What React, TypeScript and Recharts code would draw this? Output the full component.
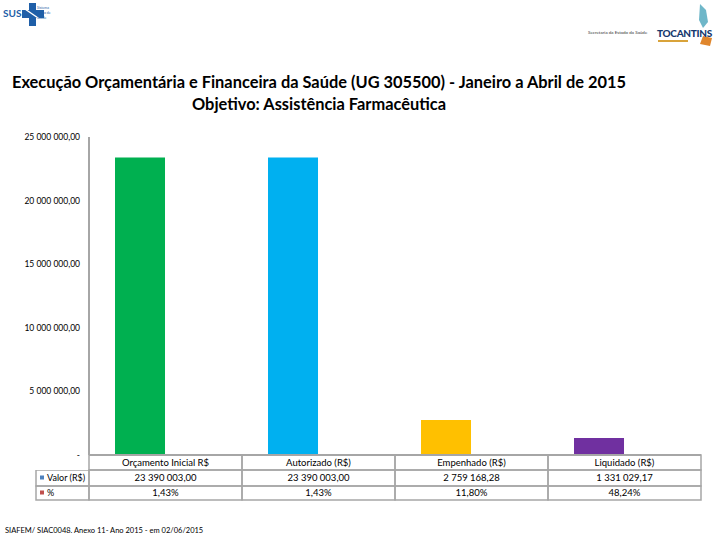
import React from 'react';
import { BarChart, Bar, XAxis, YAxis, Cell } from 'recharts';

const categories = ['Orçamento Inicial R$', 'Autorizado (R$)', 'Empenhado (R$)', 'Liquidado (R$)'];
const valores = [23390003.0, 23390003.0, 2759168.28, 1331029.17];
const percentuais = [1.43, 1.43, 11.8, 48.24];
const yTicks = [0, 5000000, 10000000, 15000000, 20000000, 25000000];
const seriesNames = ['Valor (R$)', '%'];

const BAR_COLORS = ['#00B050', '#00B0F0', '#FFC000', '#7030A0'];
const KEY_COLORS = ['#4F81BD', '#C0504D'];
const GRID = '#A6A6A6';
const FONT = 'Lato, "Liberation Sans", sans-serif';

const W = 720;
const H = 540;
const PLOT_LEFT = 89;
const PLOT_RIGHT = 701;
const PLOT_TOP = 137;
const PLOT_BOTTOM = 455;
const Y_AXIS_W = 80;
const COL_W = (PLOT_RIGHT - PLOT_LEFT) / categories.length;
const ROW_H = [15, 16, 14];

const data = categories.map((name, i) => ({
  name,
  valor: valores[i],
  pct: percentuais[i],
}));

const fmtMoney = (v: number) => {
  const [int, dec] = v.toFixed(2).split('.');
  return int.replace(/\B(?=(\d{3})+(?!\d))/g, ' ') + ',' + dec;
};
const fmtPct = (v: number) => v.toFixed(2).replace('.', ',') + '%';
const yFmt = (v: number) => (v === 0 ? '-' : fmtMoney(v));

const TableTick = (props: any) => {
  const { x, index } = props;
  const left = x - COL_W / 2;
  const cells = [categories[index], fmtMoney(valores[index]), fmtPct(percentuais[index])];
  let top = PLOT_BOTTOM;
  return (
    <g>
      {cells.map((c, r) => {
        const y0 = top;
        top += ROW_H[r];
        return (
          <g key={r}>
            <rect x={left} y={y0} width={COL_W} height={ROW_H[r]} fill="none" stroke={GRID} strokeWidth={1.5} />
            <text x={x} y={y0 + ROW_H[r] / 2 + 3} textAnchor="middle" fontSize={9.5} fontFamily={FONT} fill="#000">
              {c}
            </text>
          </g>
        );
      })}
    </g>
  );
};

const YTick = (props: any) => {
  const { y, payload } = props;
  return (
    <text x={PLOT_LEFT - 9} y={y + 3} textAnchor="end" fontSize={8.5} fontFamily={FONT} fill="#000">
      {yFmt(payload.value)}
    </text>
  );
};

export default function App() {
  const legendTop = PLOT_BOTTOM + ROW_H[0];
  return (
    <div style={{ position: 'absolute', left: 0, top: 0, width: W, height: H, background: '#fff', fontFamily: FONT, overflow: 'hidden' }}>
      {/* header logos */}
      <svg width={W} height={50} style={{ position: 'absolute', left: 0, top: 0 }}>
        <text x={3} y={17} fontSize={10} fontWeight={700} fill="#1F5FA8" fontFamily={FONT}>SUS</text>
        <rect x={29} y={3} width={7} height={23} fill="#1F5FA8" />
        <rect x={22} y={10} width={22} height={8} fill="#1F5FA8" />
        <line x1={22} y1={7} x2={44} y2={22} stroke="#fff" strokeWidth={1.5} />
        <text x={37} y={9} fontSize={3.5} fill="#1F5FA8" fontFamily={FONT}>Sistema</text>
        <text x={37} y={14} fontSize={3.5} fill="#1F5FA8" fontFamily={FONT}>Único de</text>
        <text x={37} y={19} fontSize={3.5} fill="#1F5FA8" fontFamily={FONT}>Saúde</text>
        <text x={588} y={34} fontSize={4.5} fill="#333" fontFamily={FONT}>Secretaria da Estado da Saúde</text>
        <path d="M700 4 L706 10 L708 22 L703 28 L699 20 Z" fill="#6FB7C9" />
        <path d="M703 36 L712 38 L710 46 L700 44 Z" fill="#E0862C" />
        <text x={657} y={37} fontSize={10} fontWeight={900} fill="#16386E" fontFamily={FONT} letterSpacing={-0.3}>TOCANTINS</text>
        <rect x={658} y={40} width={30} height={2} fill="#D9A33A" />
      </svg>

      {/* title */}
      <div style={{ position: 'absolute', left: 0, width: 638, top: 71, textAlign: 'center', fontWeight: 700, fontSize: 16.4, lineHeight: '22px', color: '#000' }}>
        Execução Orçamentária e Financeira da Saúde (UG 305500) - Janeiro a Abril de 2015
        <br />
        Objetivo: Assistência Farmacêutica
      </div>

      <div style={{ position: 'absolute', left: 0, top: 0 }}>
        <BarChart
          width={W}
          height={H}
          data={data}
          margin={{ top: PLOT_TOP, right: W - PLOT_RIGHT, bottom: 0, left: PLOT_LEFT - Y_AXIS_W }}
          barCategoryGap="17%"
          barGap={0}
        >
          <YAxis
            width={Y_AXIS_W}
            domain={[0, 25000000]}
            ticks={yTicks}
            tickLine={false}
            axisLine={{ stroke: GRID, strokeWidth: 2 }}
            tick={<YTick />}
            interval={0}
          />
          <XAxis
            dataKey="name"
            height={H - PLOT_BOTTOM}
            tickLine={false}
            axisLine={{ stroke: GRID, strokeWidth: 2 }}
            tick={<TableTick />}
            interval={0}
          />
          <Bar dataKey="valor" name={seriesNames[0]} isAnimationActive={false}>
            {data.map((d, i) => (
              <Cell key={i} fill={BAR_COLORS[i]} />
            ))}
          </Bar>
          <Bar dataKey="pct" name={seriesNames[1]} fill={KEY_COLORS[1]} isAnimationActive={false} />
        </BarChart>
      </div>

      {/* table row labels (legend keys) */}
      <svg width={PLOT_LEFT + 2} height={50} style={{ position: 'absolute', left: 0, top: legendTop }}>
        {seriesNames.map((s, r) => {
          const y0 = r === 0 ? 0 : ROW_H[1];
          const h = ROW_H[r + 1];
          return (
            <g key={s}>
              <rect x={36} y={y0} width={PLOT_LEFT - 36} height={h} fill="none" stroke={GRID} strokeWidth={1.5} />
              <rect x={40} y={y0 + h / 2 - 2.5} width={4} height={4} fill={KEY_COLORS[r]} />
              <text x={47} y={y0 + h / 2 + 3} fontSize={9} fontFamily={FONT} fill="#000">{s}</text>
            </g>
          );
        })}
      </svg>

      <div style={{ position: 'absolute', left: 5, top: 526, fontSize: 7.5, color: '#000' }}>
        SIAFEM/ SIAC0048. Anexo 11- Ano 2015 - em 02/06/2015
      </div>
    </div>
  );
}
